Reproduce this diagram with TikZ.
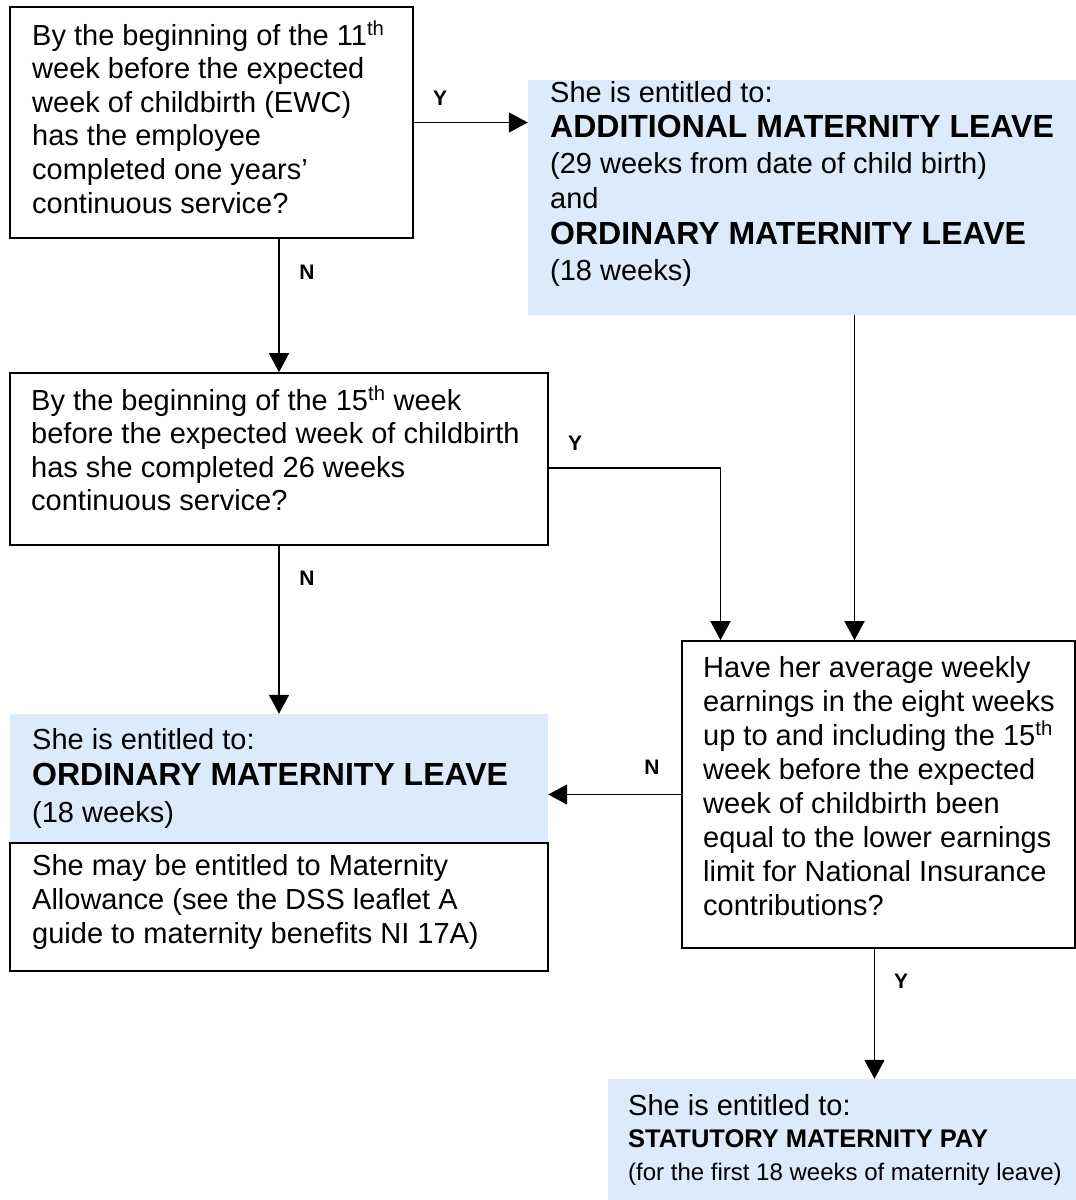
\documentclass[tikz,border=0pt]{standalone}
\usepackage{fontspec}
\setmainfont{Liberation Sans}
\usetikzlibrary{arrows.meta,fit}
\definecolor{boxblue}{RGB}{219,235,252}
\newcommand\bigbold{\bfseries\fontsize{32}{36}\selectfont}
\tikzset{
  qbox/.style={draw=black, line width=1.7pt, inner sep=0pt, fill=white},
  abox/.style={fill=boxblue, draw=none, inner sep=0pt},
  txt/.style={anchor=base west, align=left, inner sep=0pt, font=\fontsize{29}{33.6}\selectfont},
  lbl/.style={font=\bfseries\fontsize{21}{24}\selectfont, inner sep=0pt},
  arr/.style={line width=1.7pt, -{Triangle[length=19pt,width=20pt]}},
  ln/.style={line width=1.7pt}
}
\begin{document}
\begin{tikzpicture}[x=1pt,y=-1pt]
\useasboundingbox[fill=white] (0,0) rectangle (1076,1200);

% boxes
\node[qbox, fit={(10,7) (413,238)}] (q1) {};
\node[abox, fit={(528,80) (1076,315)}] (a1) {};
\node[qbox, fit={(10,373) (548,545)}] (q2) {};
\node[abox, fit={(10,714) (548,842)}] (a2) {};
\node[qbox, fit={(10,843) (548,971)}] (a2n) {};
\node[qbox, fit={(682,641) (1075,948)}] (q3) {};
\node[abox, fit={(608,1079) (1076,1200)}] (a3) {};

% texts (anchor = baseline of the last line)
\node[txt] (q1t) at (32,213) {By the beginning of the 11\textsuperscript{th}\\ week before the expected\\ week of childbirth (EWC)\\ has the employee\\ completed one years’\\ continuous service?};
\node[txt] (a1t) at (550,280) {She is entitled to:\\[2pt] {\bigbold ADDITIONAL MATERNITY LEAVE}\\[2pt] (29 weeks from date of child birth)\\[2pt] and\\[2pt] {\bigbold ORDINARY MATERNITY LEAVE}\\[2pt] (18 weeks)};
\node[txt] (q2t) at (31,510.8) {By the beginning of the 15\textsuperscript{th} week\\ before the expected week of childbirth\\ has she completed 26 weeks\\ continuous service?};
\node[txt] (a2t) at (32,822) {She is entitled to:\\[2.5pt] {\bigbold ORDINARY MATERNITY LEAVE}\\[2.5pt] (18 weeks)};
\node[txt] (a2nt) at (32,943) {She may be entitled to Maternity\\ Allowance (see the DSS leaflet A\\ guide to maternity benefits NI 17A)};
\node[txt] (q3t) at (703,915) {Have her average weekly\\[0.4pt] earnings in the eight weeks\\[0.4pt] up to and including the 15\textsuperscript{th}\\[0.4pt] week before the expected\\[0.4pt] week of childbirth been\\[0.4pt] equal to the lower earnings\\[0.4pt] limit for National Insurance\\[0.4pt] contributions?};
\node[txt] (a3t) at (628,1180) {She is entitled to:\\[-1.5pt] {\bfseries\fontsize{25.5}{30}\selectfont STATUTORY MATERNITY PAY}\\[-1pt] {\fontsize{24}{28}\selectfont (for the first 18 weeks of maternity leave)}};

% connectors
\draw[arr] (q1.east) -- (a1.west |- q1.east);
\draw[arr] (q1.south -| q2.north) -- (q2.north);
\draw[arr] (q2.south) -- (a2.north);
\draw[arr] ([yshift=-9pt]q2.east) -| ([xshift=-158pt]q3.north);
\draw[arr] ([xshift=-24pt]q3.north |- a1.south) -- ([xshift=-24pt]q3.north);
\draw[arr] (q3.west) -- (a2.east |- q3.west);
\draw[arr] ([xshift=-4pt]q3.south) -- ([xshift=-4pt]q3.south |- a3.north);

% labels
\node[lbl] (y1) at (440,98) {Y};
\node[lbl] (n1) at (307,272) {N};
\node[lbl] (y2) at (575,443) {Y};
\node[lbl] (n2) at (307,578) {N};
\node[lbl] (n3) at (652,767) {N};
\node[lbl] (y3) at (901,981) {Y};
\end{tikzpicture}
\end{document}
